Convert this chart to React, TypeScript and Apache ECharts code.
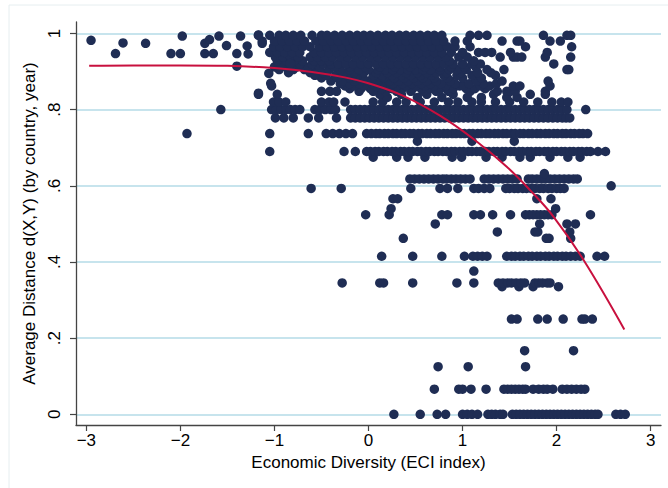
import React, { useEffect, useRef } from 'react';
import * as echarts from 'echarts';

// Axis ticks
const xTicks = [-3, -2, -1, 0, 1, 2, 3];
const yTicks = [0, 0.2, 0.4, 0.6, 0.8, 1];

// Fitted curve
const fitX = [-2.97, -2.5, -2.0, -1.5, -1.0, -0.6, -0.24, 0.0, 0.37, 0.76, 1.12, 1.47, 1.72, 1.97, 2.29, 2.72];
const fitY = [0.915, 0.916, 0.916, 0.915, 0.909, 0.899, 0.884, 0.869, 0.836, 0.784, 0.722, 0.65, 0.588, 0.518, 0.404, 0.223];

// Scatter rows: ECI values observed at each distance level
const r000 = [0.27, 0.55, 0.73, 0.82, 1.0, 1.05, 1.1, 1.16, 1.27, 1.31, 1.35, 1.4, 1.43, 1.53, 1.57, 1.61, 1.65, 1.69, 1.73, 1.77, 1.81, 1.85, 1.89, 1.93, 1.97, 2.01, 2.05, 2.09, 2.13, 2.17, 2.21, 2.25, 2.29, 2.33, 2.37, 2.41, 2.44, 2.63, 2.68, 2.73];
const r067 = [0.7, 0.96, 1.0, 1.09, 1.25, 1.44, 1.48, 1.52, 1.56, 1.6, 1.64, 1.67, 1.75, 1.81, 1.86, 1.9, 1.96, 2.06, 2.11, 2.16, 2.21, 2.26, 2.3];
const r125 = [0.74, 1.06, 1.67];
const r167 = [1.66, 2.18];
const r250 = [1.52, 1.58, 1.8, 1.9, 2.07, 2.27, 2.3, 2.38];
const r335 = [1.42, 1.6, 1.75, 2.02];
const r345 = [-0.28, 0.12, 0.16, 0.47, 0.94, 1.12, 1.38, 1.43, 1.48, 1.52, 1.57, 1.62, 1.66, 1.77, 1.81, 1.85, 1.9, 1.93];
const r375 = [1.12];
const r415 = [0.14, 0.47, 0.78, 1.02, 1.11, 1.16, 1.21, 1.26, 1.47, 1.52, 1.56, 1.61, 1.65, 1.7, 1.74, 1.79, 1.83, 1.88, 1.92, 1.97, 2.01, 2.06, 2.1, 2.15, 2.2, 2.25, 2.43, 2.51];
const r462 = [0.37, 1.89, 1.92, 2.15];
const r479 = [1.37, 1.77, 1.8, 2.14];
const r500 = [0.71, 1.82, 2.11, 2.2];
const r524 = [-0.03, 0.22, 0.78, 0.84, 1.12, 1.19, 1.32, 1.51, 1.67, 1.71, 1.75, 1.79, 1.83, 1.87, 1.91, 1.95, 2.36];
const r540 = [0.24, 1.99];
const r566 = [0.26, 0.31, 1.79, 1.94];
const r593 = [-0.61, -0.29, 0.45, 0.76, 0.84, 0.95, 1.12, 1.17, 1.23, 1.29, 1.46, 1.5, 1.55, 1.59, 1.64, 1.68, 1.73, 1.77, 1.82, 1.86, 1.91, 1.95, 2.0, 2.04, 2.08];
const r600 = [2.58];
const r618 = [0.44, 0.49, 0.54, 0.59, 0.64, 0.69, 0.74, 0.79, 0.83, 0.88, 0.93, 0.98, 1.03, 1.08, 1.23, 1.28, 1.33, 1.38, 1.43, 1.48, 1.53, 1.58, 1.7, 1.74, 1.79, 1.84, 1.88, 1.93, 1.98, 2.03, 2.08, 2.13, 2.18, 2.22];
const r632 = [1.87];
const r675 = [0.05, 0.3, 0.42, 0.6, 0.89, 0.99, 1.25, 1.42, 1.61, 1.72, 1.93, 2.12, 2.25];
const r690 = [-1.05, -0.26, -0.14, -0.02, 0.02, 0.07, 0.11, 0.16, 0.2, 0.25, 0.29, 0.34, 0.38, 0.43, 0.47, 0.52, 0.56, 0.61, 0.65, 0.7, 0.74, 0.79, 0.83, 0.88, 0.92, 0.97, 1.01, 1.06, 1.1, 1.15, 1.19, 1.24, 1.28, 1.33, 1.37, 1.42, 1.46, 1.51, 1.55, 1.6, 1.64, 1.69, 1.73, 1.78, 1.82, 1.87, 1.91, 1.96, 2.0, 2.05, 2.09, 2.14, 2.18, 2.23, 2.27, 2.32, 2.36, 2.44, 2.52];
const r717 = [0.52, 1.1, 1.55];
const r735 = [-1.93, -1.05, -0.64, -0.45, -0.38, -0.31, -0.24, -0.17, -0.02, 0.03, 0.08, 0.12, 0.17, 0.21, 0.26, 0.3, 0.35, 0.39, 0.44, 0.48, 0.53, 0.57, 0.62, 0.66, 0.71, 0.75, 0.8, 0.84, 0.89, 0.93, 0.98, 1.02, 1.07, 1.11, 1.16, 1.2, 1.25, 1.29, 1.34, 1.38, 1.43, 1.47, 1.52, 1.56, 1.61, 1.65, 1.7, 1.74, 1.79, 1.83, 1.88, 1.92, 1.97, 2.01, 2.06, 2.1, 2.15, 2.19, 2.24, 2.28, 2.33];
const r778 = [-0.99, -0.9, -0.8, -0.64, -0.53, -0.34, -0.19, -0.14, -0.09, -0.04, 0.01, 0.06, 0.11, 0.16, 0.21, 0.26, 0.31, 0.36, 0.41, 0.46, 0.51, 0.56, 0.61, 0.66, 0.71, 0.76, 0.81, 0.86, 0.91, 0.96, 1.01, 1.06, 1.11, 1.16, 1.21, 1.26, 1.31, 1.36, 1.41, 1.46, 1.51, 1.56, 1.61, 1.66, 1.71, 1.76, 1.81, 1.86, 1.91, 1.96, 2.01, 2.06, 2.1, 2.14];
const r800 = [-1.57, -1.03, -0.98, -0.93, -0.88, -0.83, -0.78, -0.73, -0.57, -0.52, -0.46, -0.4, -0.35, -0.19, -0.14, -0.09, -0.04, 0.01, 0.06, 0.11, 0.16, 0.21, 0.26, 0.31, 0.36, 0.41, 0.46, 0.51, 0.56, 0.61, 0.66, 0.71, 0.76, 0.81, 0.86, 0.91, 0.96, 1.01, 1.06, 1.11, 1.16, 1.21, 1.26, 1.31, 1.36, 1.41, 1.46, 1.51, 1.56, 1.61, 1.66, 1.71, 1.76, 1.81, 1.86, 1.91, 1.96, 2.01, 2.06, 2.11, 2.31];
const r820 = [-1.01, -0.95, -0.88, -0.5, -0.42, -0.37, -0.25, 0.05, 0.15, 0.3, 0.4, 0.55, 0.7, 0.85, 0.95, 1.1, 1.2, 1.35, 1.5, 1.65, 1.8, 1.95, 2.05, 2.12];
const r832 = [0.2, 0.52, 0.78, 1.05, 1.2, 1.47, 1.58];
const r840 = [-1.17, -0.97, 0.12, 0.35, 0.62, 0.9, 1.33, 1.72, 1.88];
const r848 = [-0.5, -0.41, -0.34, -0.1, 0.05, 0.18, 0.3, 0.45, 0.58, 0.72, 0.85, 1.08, 1.37, 1.47, 1.51, 1.56, 1.88];
const r855 = [-0.2, -0.08, 0.02, 0.14, 0.25, 0.36, 0.47, 0.56, 0.66, 0.77, 0.9, 1.04, 1.13, 1.24];
const r862 = [-1.03, -0.25, -0.15, -0.05, 0.08, 0.2, 0.3, 0.4, 0.5, 0.6, 0.7, 0.82, 0.97, 1.01, 1.19, 1.29, 1.54, 1.61, 1.93];
const r868 = [-0.3, -0.2, -0.1, 0.04, 0.15, 0.26, 0.36, 0.46, 0.56, 0.66, 0.77, 0.92, 1.07, 1.22, 1.36];
const r875 = [-0.4, -0.28, -0.15, 0.0, 0.1, 0.22, 0.32, 0.42, 0.52, 0.62, 0.72, 0.87, 1.15, 1.42, 1.91];
const r883 = [-0.5, -0.33, -0.2, -0.06, 0.05, 0.16, 0.27, 0.38, 0.48, 0.58, 0.7, 0.84, 1.0, 1.2];
const r890 = [-0.57, -0.45, -0.35, -0.22, -0.12, 0.05, 0.15, 0.25, 0.35, 0.45, 0.55, 0.67, 0.8, 0.94, 1.1, 1.35];
const r897 = [-0.85, -0.62, -0.48, -0.27, -0.15, -0.05, 0.08, 0.2, 0.3, 0.4, 0.52, 0.62, 0.72, 0.83, 0.98, 1.16, 1.3];
const r905 = [-0.95, -0.8, -0.68, -0.55, -0.42, -0.3, -0.2, -0.1, 0.0, 0.1, 0.18, 0.26, 0.34, 0.42, 0.5, 0.58, 0.66, 0.76, 0.86, 0.94, 1.04, 1.26, 1.44, 2.11, 2.13];
const r912 = [-1.0, -0.88, -0.76, -0.64, -0.52, -0.36, -0.2, -0.04, 0.12, 0.28, 0.44, 0.6, 0.76, 0.88, 1.02, 1.14];
const r920 = [-0.93, -0.83, -0.73, -0.6, -0.48, -0.4, -0.32, -0.24, -0.16, -0.08, 0.0, 0.08, 0.16, 0.24, 0.32, 0.4, 0.48, 0.56, 0.64, 0.72, 0.8, 0.9, 1.0, 1.1, 1.19, 1.97];
const r928 = [-0.97, -0.87, -0.79, -0.7, -0.58, -0.5, -0.42, 0.86, 1.12];
const r938 = [-0.99, -0.91, -0.83, -0.75, -0.62, -0.54, -0.46, -0.38, -0.3, -0.22, -0.14, -0.06, 0.02, 0.1, 0.18, 0.26, 0.34, 0.42, 0.5, 0.58, 0.66, 0.74, 0.82, 0.96, 1.05, 1.4, 1.54, 1.58, 1.63, 1.88, 2.15];
const r950 = [-1.05, -0.97, -0.89, -0.81, -0.73, -0.58, -0.5, -0.42, -0.34, -0.26, -0.18, -0.1, -0.02, 0.06, 0.14, 0.22, 0.3, 0.38, 0.46, 0.54, 0.62, 0.7, 0.78, 0.88, 1.0, 1.17, 1.24, 1.31, 1.51, 1.9];
const r965 = [-1.01, -0.94, -0.86, -0.78, -0.7, -0.62, -0.52, -0.44, -0.36, -0.28, -0.2, -0.12, -0.04, 0.04, 0.12, 0.2, 0.28, 0.36, 0.44, 0.52, 0.6, 0.68, 0.76, 0.84, 0.92, 1.08, 1.67, 2.16];
const r980 = [-1.13, -1.0, -0.92, -0.84, -0.76, -0.68, -0.56, -0.48, -0.4, -0.32, -0.24, -0.16, -0.08, 0.0, 0.08, 0.16, 0.24, 0.32, 0.4, 0.48, 0.56, 0.64, 0.72, 0.8, 0.92, 1.05, 1.42, 1.58, 1.61, 1.93, 2.04];
const r995 = [-1.17, -1.05, -0.95, -0.88, -0.8, -0.72, -0.6, -0.5, -0.44, -0.36, -0.28, -0.2, -0.12, -0.05, 0.02, 0.1, 0.18, 0.25, 0.33, 0.4, 0.48, 0.55, 0.63, 0.7, 0.78, 1.08, 1.17, 1.26, 1.86, 2.11, 2.15];

// Isolated points on the left (ECI, distance)
const loosePoints = [
  [-2.95, 0.982], [-2.69, 0.947], [-2.61, 0.975], [-2.37, 0.974], [-2.1, 0.947], [-2.0, 0.947],
  [-1.98, 0.993], [-1.74, 0.974], [-1.69, 0.984], [-1.74, 0.947], [-1.65, 0.947], [-1.59, 0.993],
  [-1.51, 0.968], [-1.4, 0.947], [-1.4, 0.914], [-1.36, 0.993], [-1.29, 0.967], [-1.28, 0.946],
  [-1.17, 0.843], [-1.17, 0.996], [-1.13, 0.974], [-1.06, 0.895], [-1.04, 0.869], [-0.83, 0.921],
  [-0.57, 0.892],
];

const rowLevels: [number, number[]][] = [
  [0, r000], [0.066, r067], [0.125, r125], [0.167, r167], [0.25, r250], [0.335, r335], [0.345, r345],
  [0.376, r375], [0.415, r415], [0.462, r462], [0.479, r479], [0.5, r500], [0.524, r524], [0.54, r540],
  [0.566, r566], [0.593, r593], [0.6, r600], [0.618, r618], [0.632, r632], [0.675, r675], [0.69, r690],
  [0.717, r717], [0.737, r735], [0.778, r778], [0.8, r800], [0.82, r820], [0.832, r832], [0.84, r840],
  [0.848, r848], [0.855, r855], [0.862, r862], [0.868, r868], [0.875, r875], [0.883, r883], [0.89, r890],
  [0.897, r897], [0.905, r905], [0.912, r912], [0.92, r920], [0.928, r928], [0.938, r938],
  [0.95, r950], [0.965, r965], [0.98, r980], [0.995, r995],
];

const FONT = '"Liberation Sans", Arial, Helvetica, sans-serif';

export default function App() {
  const ref = useRef<HTMLDivElement>(null);
  useEffect(() => {
    document.body.style.margin = '0';
    const chart = echarts.init(ref.current!, null, { renderer: 'svg' });
    const pts: number[][] = [];
    rowLevels.forEach(([y, xs]) => xs.forEach((x) => pts.push([x, y])));
    loosePoints.forEach((p) => pts.push(p));
    const fit = fitX.map((x, i) => [x, fitY[i]]);
    const yFmt = (v: number) => {
      if (Math.abs(v) < 1e-9) return '0';
      if (Math.abs(v - 1) < 1e-9) return '1';
      return '.' + Math.round(v * 10);
    };
    chart.setOption({
      animation: false,
      backgroundColor: '#ffffff',
      textStyle: { fontFamily: FONT },
      graphic: [
        {
          type: 'rect',
          shape: { x: 9, y: 5, width: 700, height: 600 },
          style: { fill: 'none', stroke: '#e6eef0', lineWidth: 1 },
          silent: true,
        },
      ],
      grid: { left: 76, right: 7, top: 22, bottom: 63 },
      xAxis: {
        type: 'value',
        min: -3.11,
        max: 3.11,
        name: 'Economic Diversity (ECI index)',
        nameLocation: 'middle',
        nameGap: 28,
        nameTextStyle: { fontSize: 17, color: '#000', fontFamily: FONT },
        axisLine: { show: true, onZero: false, lineStyle: { color: '#444', width: 1.3 } },
        axisTick: { show: true, length: 6, customValues: xTicks, lineStyle: { color: '#444', width: 1.2 } },
        axisLabel: {
          customValues: xTicks,
          fontSize: 17,
          color: '#000',
          margin: 7,
          fontFamily: FONT,
          formatter: (v: number) => String(v).replace('-', '\u2212'),
        },
        splitLine: { show: false },
      },
      yAxis: {
        type: 'value',
        min: -0.028,
        max: 1.03,
        name: 'Average Distance d(X,Y) (by country, year)',
        nameLocation: 'middle',
        nameGap: 38,
        nameRotate: 90,
        nameTextStyle: { fontSize: 17, color: '#000', fontFamily: FONT },
        axisLine: { show: true, onZero: false, lineStyle: { color: '#444', width: 1.3 } },
        axisTick: { show: true, length: 6, customValues: yTicks, lineStyle: { color: '#444', width: 1.2 } },
        axisLabel: {
          customValues: yTicks,
          rotate: 90,
          margin: 13,
          fontSize: 17,
          color: '#000',
          fontFamily: FONT,
          formatter: yFmt,
        },
        splitLine: { show: true, lineStyle: { color: '#b4dbe7', width: 1.5 } },
      },
      series: [
        {
          type: 'scatter',
          data: pts,
          symbol: 'circle',
          symbolSize: 9.5,
          progressive: 0,
          itemStyle: { color: '#1f2d54', opacity: 1 },
          z: 2,
        },
        {
          type: 'line',
          data: fit,
          smooth: 0.4,
          symbol: 'none',
          showSymbol: false,
          lineStyle: { color: '#c8103e', width: 2 },
          z: 3,
        },
      ],
    });
    return () => chart.dispose();
  }, []);
  return <div ref={ref} style={{ position: 'absolute', left: 0, top: 0, width: 668, height: 488 }} />;
}
